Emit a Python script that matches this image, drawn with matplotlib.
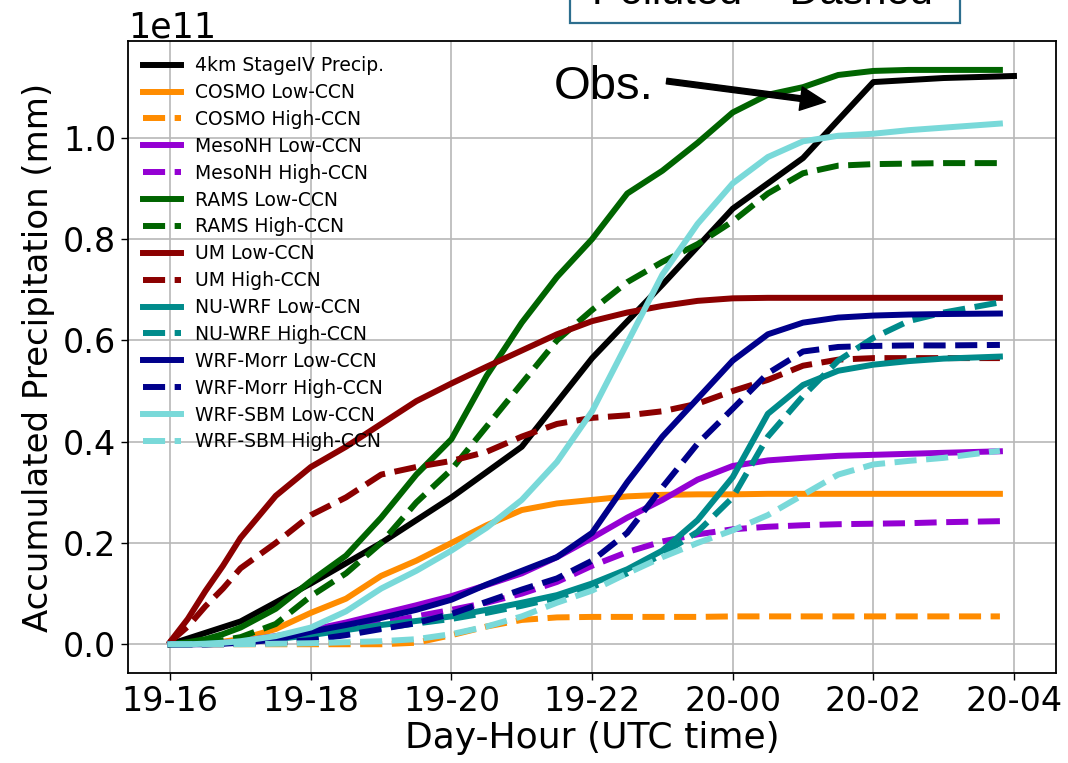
import matplotlib
matplotlib.use("Agg")
import matplotlib.pyplot as plt
from matplotlib.patches import Rectangle

# ---------------- data (units of 1e11 mm) ----------------
obs_hours = [0, 1, 2, 3, 4, 5, 6, 7, 8, 9, 10, 11, 12]
obs_vals = [0.0, 0.045, 0.12, 0.20, 0.29, 0.39, 0.565, 0.71, 0.86, 0.96, 1.11, 1.118, 1.122]

model_hours = [0, 0.25, 0.5, 0.75, 1, 1.5, 2, 2.5, 3, 3.5, 4, 4.5, 5, 5.5, 6,
               6.5, 7, 7.5, 8, 8.5, 9, 9.5, 10, 10.5, 11, 11.8]

cosmo_low = [0, 0, 0.002, 0.005, 0.01, 0.03, 0.062, 0.09, 0.135, 0.165, 0.2, 0.235, 0.265,
             0.278, 0.285, 0.292, 0.295, 0.296, 0.296, 0.297, 0.297, 0.297, 0.297, 0.297, 0.297, 0.297]
cosmo_high = [0, 0, 0, 0, 0, 0, 0, 0, 0, 0.003, 0.018, 0.035, 0.048,
              0.053, 0.054, 0.054, 0.054, 0.054, 0.055, 0.055, 0.055, 0.055, 0.055, 0.055, 0.055, 0.055]
mesonh_low = [0, 0, 0.001, 0.003, 0.006, 0.016, 0.028, 0.043, 0.06, 0.077, 0.095, 0.117, 0.14,
              0.172, 0.21, 0.25, 0.285, 0.325, 0.352, 0.363, 0.368, 0.372, 0.374, 0.376, 0.378, 0.381]
mesonh_high = [0, 0, 0, 0.001, 0.003, 0.01, 0.02, 0.03, 0.042, 0.055, 0.068, 0.082, 0.1,
               0.123, 0.155, 0.182, 0.203, 0.217, 0.227, 0.232, 0.235, 0.237, 0.238, 0.239, 0.241, 0.243]
rams_low = [0, 0.004, 0.01, 0.02, 0.033, 0.07, 0.125, 0.175, 0.25, 0.335, 0.405, 0.53, 0.635,
            0.725, 0.80, 0.89, 0.935, 0.99, 1.05, 1.085, 1.10, 1.124, 1.132, 1.134, 1.134, 1.134]
rams_high = [0, 0.001, 0.003, 0.008, 0.014, 0.04, 0.095, 0.14, 0.2, 0.28, 0.345, 0.43, 0.515,
             0.6, 0.66, 0.715, 0.755, 0.79, 0.835, 0.89, 0.93, 0.945, 0.948, 0.949, 0.95, 0.95]
um_low = [0.005, 0.05, 0.105, 0.155, 0.21, 0.293, 0.35, 0.39, 0.435, 0.48, 0.515, 0.548, 0.58,
          0.612, 0.638, 0.655, 0.668, 0.678, 0.683, 0.684, 0.684, 0.684, 0.684, 0.684, 0.684, 0.684]
um_high = [0.005, 0.035, 0.075, 0.11, 0.15, 0.2, 0.255, 0.29, 0.335, 0.35, 0.362, 0.38, 0.41,
           0.435, 0.447, 0.452, 0.46, 0.475, 0.5, 0.522, 0.55, 0.562, 0.565, 0.565, 0.565, 0.565]
nuwrf_low = [0, 0, 0.001, 0.002, 0.004, 0.01, 0.018, 0.028, 0.038, 0.046, 0.055, 0.068, 0.082,
             0.097, 0.12, 0.148, 0.185, 0.245, 0.33, 0.455, 0.512, 0.54, 0.552, 0.559, 0.564, 0.568]
nuwrf_high = [0, 0, 0, 0.001, 0.002, 0.006, 0.013, 0.022, 0.032, 0.041, 0.05, 0.062, 0.076,
              0.092, 0.113, 0.14, 0.178, 0.222, 0.29, 0.41, 0.49, 0.56, 0.605, 0.638, 0.655, 0.675]
morr_low = [0, 0, 0, 0.001, 0.003, 0.009, 0.025, 0.038, 0.052, 0.068, 0.088, 0.118, 0.145,
            0.172, 0.22, 0.32, 0.41, 0.485, 0.56, 0.612, 0.635, 0.645, 0.649, 0.651, 0.652, 0.653]
morr_high = [0, 0, 0, 0, 0.001, 0.003, 0.008, 0.018, 0.03, 0.042, 0.06, 0.084, 0.108,
             0.13, 0.165, 0.22, 0.31, 0.396, 0.465, 0.535, 0.578, 0.587, 0.589, 0.59, 0.59, 0.591]
sbm_low = [0, 0, 0.001, 0.003, 0.006, 0.016, 0.033, 0.065, 0.11, 0.145, 0.185, 0.23, 0.285,
           0.36, 0.46, 0.595, 0.73, 0.83, 0.91, 0.962, 0.993, 1.004, 1.008, 1.015, 1.02, 1.028]
sbm_high = [0, 0, 0, 0, 0, 0.001, 0.002, 0.004, 0.006, 0.01, 0.02, 0.035, 0.055,
            0.082, 0.106, 0.14, 0.172, 0.2, 0.225, 0.255, 0.295, 0.335, 0.355, 0.362, 0.368, 0.382]

series_labels = ["COSMO Low-CCN", "COSMO High-CCN", "MesoNH Low-CCN", "MesoNH High-CCN",
                 "RAMS Low-CCN", "RAMS High-CCN", "UM Low-CCN", "UM High-CCN",
                 "NU-WRF Low-CCN", "NU-WRF High-CCN", "WRF-Morr Low-CCN", "WRF-Morr High-CCN",
                 "WRF-SBM Low-CCN", "WRF-SBM High-CCN"]
series_values = [cosmo_low, cosmo_high, mesonh_low, mesonh_high, rams_low, rams_high,
                 um_low, um_high, nuwrf_low, nuwrf_high, morr_low, morr_high, sbm_low, sbm_high]
series_colors = ["#ff8c00", "#ff8c00", "#9400d3", "#9400d3", "#006400", "#006400",
                 "#8b0000", "#8b0000", "#008b8b", "#008b8b", "#00008b", "#00008b",
                 "#79d9d9", "#79d9d9"]

xtick_hours = [0, 2, 4, 6, 8, 10, 12]
xtick_labels = ["19-16", "19-18", "19-20", "19-22", "20-00", "20-02", "20-04"]
SCALE = 1e11

# ---------------- figure ----------------
fig = plt.figure(figsize=(10.68, 7.63), dpi=100)
ax = fig.add_axes([0.1199, 0.118, 0.869, 0.828])

LW = 4.3
ax.plot(obs_hours, [v * SCALE for v in obs_vals], color="black", lw=LW,
        label="4km StageIV Precip.")
for lab, vals, col in zip(series_labels, series_values, series_colors):
    ls = "--" if "High" in lab else "-"
    ax.plot(model_hours, [v * SCALE for v in vals], color=col, lw=LW, ls=ls, label=lab)

ax.set_xticks(xtick_hours)
ax.set_xticklabels(xtick_labels)
ax.set_yticks([0, 0.2e11, 0.4e11, 0.6e11, 0.8e11, 1.0e11])
ax.tick_params(axis="both", labelsize=24, length=5, width=1)
ax.yaxis.get_offset_text().set_fontsize(25)
ax.grid(True, color="#b8b8b8", lw=1.2)
for sp in ax.spines.values():
    sp.set_linewidth(1.3)

ax.set_xlabel("Day-Hour (UTC time)", fontsize=26, labelpad=2)
ax.set_ylabel("Accumulated Precipitation (mm)", fontsize=24.5, labelpad=6)

leg = ax.legend(loc="upper left", frameon=False, fontsize=13.5, handlelength=2.0,
                labelspacing=0.42, borderaxespad=0.4, handletextpad=0.75)

# Obs annotation
ax.annotate("", xy=(9.32, 1.071 * SCALE), xytext=(7.06, 1.112 * SCALE),
            arrowprops=dict(facecolor="black", edgecolor="black", width=4,
                            headwidth=17, headlength=18, shrink=0))
ax.text(6.17, 1.077 * SCALE, "Obs.", fontsize=34, family=["Liberation Sans", "DejaVu Sans"],
        ha="center", va="baseline")

# partially visible title box at the top
fig.patches.append(Rectangle((570 / 1068, 1 - 23 / 763), 390 / 1068, 0.1,
                             transform=fig.transFigure, facecolor="white",
                             edgecolor="#2d6e8e", lw=1.6, clip_on=False))
fig.text(762 / 1068, 1 - 4 / 763, "Polluted = Dashed", fontsize=30,
         family=["Liberation Sans", "DejaVu Sans"], ha="center", va="baseline")

fig.savefig("out.png", dpi=100)
